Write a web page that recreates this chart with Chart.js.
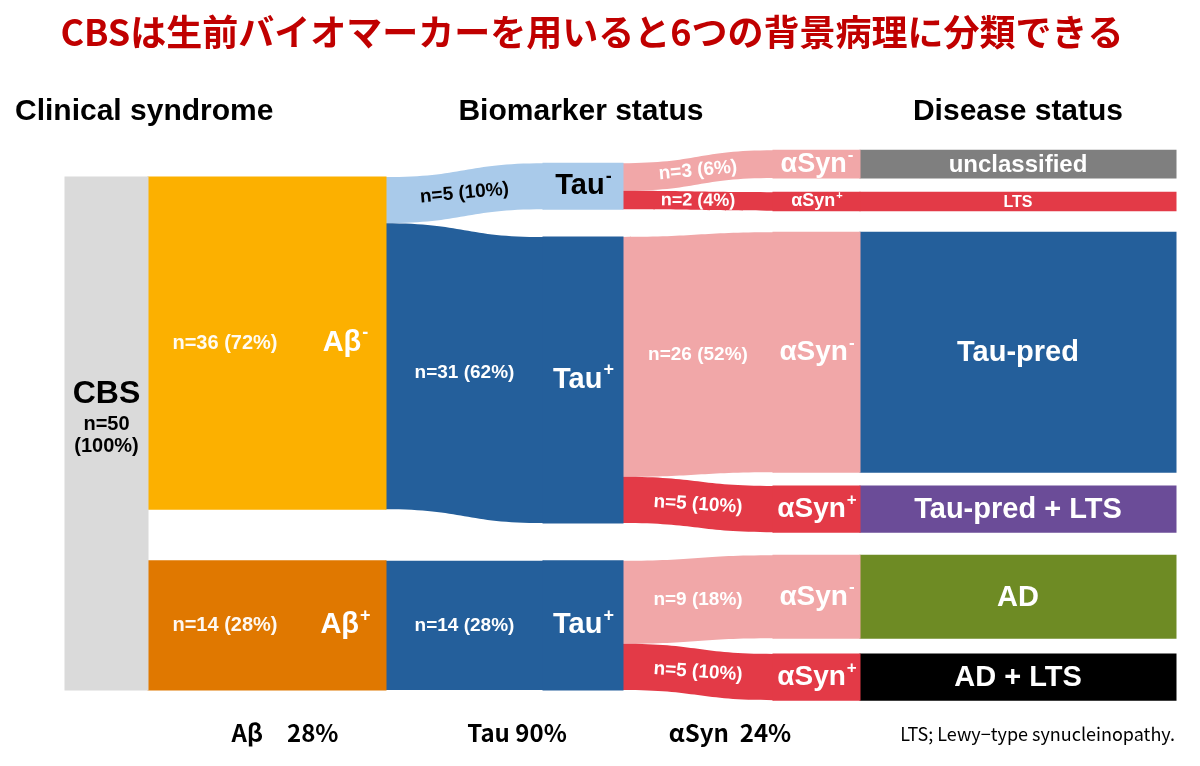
<!DOCTYPE html>
<html><head><meta charset="utf-8">
<script src="https://cdn.jsdelivr.net/npm/chart.js@4.4.1/dist/chart.umd.min.js"></script>
<style>html,body{margin:0;padding:0;background:#fff}#wrap{width:1200px;height:766px;position:relative}</style>
</head><body><div id="wrap"><canvas id="c"></canvas></div>
<script>
// ---------------- data ----------------
const chartTitle = 'CBSは生前バイオマーカーを用いると6つの背景病理に分類できる';
const columnTitles = ['Clinical syndrome', 'Biomarker status', 'Disease status'];
const totalN = 50;
const cbsName = 'CBS';
const cbsCount = [50];
const abetaNames = ['Aβ', 'Aβ'];
const abetaSigns = ['-', '+'];
const abetaCounts = [36, 14];
const tauNames = ['Tau', 'Tau', 'Tau'];
const tauSigns = ['-', '+', '+'];
const tauCounts = [5, 31, 14];
const tauParent = [0, 0, 1];
const synNames = ['αSyn', 'αSyn', 'αSyn', 'αSyn', 'αSyn', 'αSyn'];
const synSigns = ['-', '+', '-', '+', '-', '+'];
const synCounts = [3, 2, 26, 5, 9, 5];
const synParent = [0, 0, 1, 1, 2, 2];
const diseaseNames = ['unclassified', 'LTS', 'Tau-pred', 'Tau-pred + LTS', 'AD', 'AD + LTS'];
const diseaseCounts = [3, 2, 26, 5, 9, 5];
const summaryLabels = ['Aβ　28%', 'Tau 90%', 'αSyn  24%'];
const footnote = 'LTS; Lewy−type synucleinopathy.';

// ---------------- layout (positions / styles) ----------------
const col = {
  cbs: [65, 148], abeta: [148, 386], tauFlow: [386, 543], tauNode: [543, 623],
  synFlow: [623, 773], synNode: [773, 860], disease: [860, 1176]
};
const abetaGap = 5.6;                       // gap between Aβ nodes (in patients)
const tauTop = [-1.5, 6.5, 41.6];           // node tops in patient units
const diseaseTop = [-2.9, 1.65, 6.0, 33.5, 41.0, 51.7];
const colors = {
  cbs: '#DADADA',
  abeta: ['#FCB000', '#E07800'],
  tau: ['#A9CAEA', '#245F9B', '#245F9B'],
  syn: ['#F1A7A8', '#E33A47', '#F1A7A8', '#E33A47', '#F1A7A8', '#E33A47'],
  disease: ['#7F7F7F', '#E33A47', '#245F9B', '#6B4C98', '#6E8B24', '#000000']
};
const tauText = ['#000', '#fff', '#fff'];

const abetaTop = [];
{ let t = 0; abetaCounts.forEach((c) => { abetaTop.push(t); t += c + abetaGap; }); }
const cbsSpan = abetaTop[abetaTop.length - 1] + abetaCounts[abetaCounts.length - 1];
const mid = (r) => (r[0] + r[1]) / 2;
const wid = (r) => r[1] - r[0];

// flows
const tauFlows = [];
{ const used = abetaCounts.map(() => 0);
  tauCounts.forEach((c, i) => { const p = tauParent[i];
    tauFlows.push({ s: abetaTop[p] + used[p], t: tauTop[i], c, color: colors.tau[i], text: tauText[i] });
    used[p] += c; }); }
const synFlows = [];
{ const used = tauCounts.map(() => 0);
  synCounts.forEach((c, i) => { const p = synParent[i];
    synFlows.push({ s: tauTop[p] + used[p], t: diseaseTop[i], c, color: colors.syn[i] });
    used[p] += c; }); }

const nLabel = (c) => `n=${c} (${Math.round(c / totalN * 100)}%)`;
const SANS = '"Liberation Sans", Arial, sans-serif';
const JP = '"Noto Sans CJK JP", sans-serif';

function drawFlow(ctx, ys, x0, x1, f) {
  const a0 = x0 - 0.6, a1 = x1 + 0.6, m = (x0 + x1) / 2;
  const t0 = ys.getPixelForValue(f.s), b0 = ys.getPixelForValue(f.s + f.c);
  const t1 = ys.getPixelForValue(f.t), b1 = ys.getPixelForValue(f.t + f.c);
  ctx.beginPath();
  ctx.moveTo(a0, t0);
  ctx.bezierCurveTo(m, t0, m, t1, a1, t1);
  ctx.lineTo(a1, b1);
  ctx.bezierCurveTo(m, b1, m, b0, a0, b0);
  ctx.closePath();
  ctx.fillStyle = f.color;
  ctx.fill();
}

function txt(ctx, s, x, y, font, color, align) {
  ctx.font = font; ctx.fillStyle = color; ctx.textAlign = align || 'center'; ctx.textBaseline = 'middle';
  ctx.fillText(s, x, y);
}
function supLabel(ctx, main, sup, cx, cy, size, color) {
  ctx.font = `bold ${size}px ${SANS}`;
  const w1 = ctx.measureText(main).width;
  const ss = Math.round(size * 0.62);
  ctx.font = `bold ${ss}px ${SANS}`;
  const w2 = ctx.measureText(sup).width;
  const x0 = cx - (w1 + w2) / 2;
  ctx.fillStyle = color; ctx.textAlign = 'left'; ctx.textBaseline = 'middle';
  ctx.font = `bold ${size}px ${SANS}`;
  ctx.fillText(main, x0, cy);
  ctx.font = `bold ${ss}px ${SANS}`;
  ctx.fillText(sup, x0 + w1 + 1, cy - size * 0.33);
}
function flowLabel(ctx, s, x0, x1, startC, endC, bandH, size, color) {
  const cx = (x0 + x1) / 2;
  const cy = (startC + endC) / 2;
  const ang = bandH < 60 ? Math.atan(1.5 * (endC - startC) / (x1 - x0)) * 0.7 : 0;
  ctx.save();
  ctx.translate(cx, cy);
  ctx.rotate(ang);
  ctx.font = `bold ${size}px ${SANS}`; ctx.fillStyle = color; ctx.textAlign = 'center'; ctx.textBaseline = 'middle';
  ctx.fillText(s, 0, 0);
  ctx.restore();
}

const sankeyPlugin = {
  id: 'sankeyFlows',
  beforeDatasetsDraw(chart) {
    const { ctx, scales: { x: xs, y: ys } } = chart;
    ctx.save();
    tauFlows.forEach((f) => drawFlow(ctx, ys, xs.getPixelForValue(col.tauFlow[0]), xs.getPixelForValue(col.tauFlow[1]), f));
    synFlows.forEach((f) => drawFlow(ctx, ys, xs.getPixelForValue(col.synFlow[0]), xs.getPixelForValue(col.synFlow[1]), f));
    ctx.restore();
  },
  afterDatasetsDraw(chart) {
    const { ctx, scales: { x: xs, y: ys } } = chart;
    const X = (v) => xs.getPixelForValue(v);
    const Y = (v) => ys.getPixelForValue(v);
    ctx.save();
    // title + headers
    txt(ctx, chartTitle, 592, 32, `bold 36px ${JP}`, '#C00000');
    txt(ctx, columnTitles[0], 15, 112, `bold 30px ${SANS}`, '#000', 'left');
    txt(ctx, columnTitles[1], 581, 112, `bold 30px ${SANS}`, '#000');
    txt(ctx, columnTitles[2], 1018, 112, `bold 30px ${SANS}`, '#000');
    // CBS
    const cbsC = (Y(0) + Y(cbsSpan)) / 2;
    txt(ctx, cbsName, X(mid(col.cbs)), cbsC - 39, `bold 32px ${SANS}`, '#000');
    txt(ctx, `n=${cbsCount[0]}`, X(mid(col.cbs)), cbsC - 9, `bold 20px ${SANS}`, '#000');
    txt(ctx, '(100%)', X(mid(col.cbs)), cbsC + 13, `bold 20px ${SANS}`, '#000');
    // Aβ
    abetaCounts.forEach((c, i) => {
      const cy = (Y(abetaTop[i]) + Y(abetaTop[i] + c)) / 2;
      txt(ctx, nLabel(c), X(col.abeta[0] + 77), cy, `bold 20px ${SANS}`, 'rgba(255,255,255,0.95)');
      supLabel(ctx, abetaNames[i], abetaSigns[i], X(col.abeta[1] - 41), cy, 29, '#fff');
    });
    // Tau
    tauFlows.forEach((f, i) => {
      const sC = Y(f.s + f.c / 2), eC = Y(f.t + f.c / 2);
      const h = Y(f.t + f.c) - Y(f.t);
      flowLabel(ctx, nLabel(f.c), X(col.tauFlow[0]), X(col.tauFlow[1]), sC, eC, h, 19, f.text);
      const cy = (Y(tauTop[i]) + Y(tauTop[i] + tauCounts[i])) / 2;
      supLabel(ctx, tauNames[i], tauSigns[i], X(mid(col.tauNode)), cy, 29, f.text);
    });
    // αSyn
    synFlows.forEach((f, i) => {
      const sC = Y(f.s + f.c / 2), eC = Y(f.t + f.c / 2);
      const h = Y(f.t + f.c) - Y(f.t);
      flowLabel(ctx, nLabel(f.c), X(col.synFlow[0]), X(col.synFlow[1]), sC, eC, h, Math.min(19, Math.round(h * 0.95)), '#fff');
      supLabel(ctx, synNames[i], synSigns[i], X(mid(col.synNode)), (Y(f.t) + Y(f.t + f.c)) / 2, Math.min(28, Math.round(h * 0.98)), '#fff');
    });
    // disease
    diseaseNames.forEach((n, i) => {
      const y0 = Y(diseaseTop[i]), y1 = Y(diseaseTop[i] + diseaseCounts[i]);
      const size = Math.min(29, Math.round((y1 - y0) * 0.85));
      txt(ctx, n, X(mid(col.disease)), (y0 + y1) / 2 + 1, `bold ${size}px ${SANS}`, '#fff');
    });
    // bottom
    txt(ctx, summaryLabels[0], 285, 733, `bold 24px ${JP}`, '#000');
    txt(ctx, summaryLabels[1], 517, 733, `bold 24px ${JP}`, '#000');
    txt(ctx, summaryLabels[2], 730, 733, `bold 24px ${JP}`, '#000');
    txt(ctx, footnote, 1175, 734, `18px ${JP}`, '#000', 'right');
    ctx.restore();
  }
};

const barDefaults = { grouped: false, borderWidth: 0, borderSkipped: false, inflateAmount: 0.5 };
const data = {
  datasets: [
    { ...barDefaults, label: 'Clinical syndrome', data: cbsCount.map(() => ({ x: mid(col.cbs), y: [0, cbsSpan] })),
      backgroundColor: colors.cbs, barThickness: wid(col.cbs) },
    { ...barDefaults, label: 'Aβ', data: abetaCounts.map((c, i) => ({ x: mid(col.abeta), y: [abetaTop[i], abetaTop[i] + c] })),
      backgroundColor: colors.abeta, barThickness: wid(col.abeta) },
    { ...barDefaults, label: 'Tau', data: tauCounts.map((c, i) => ({ x: mid(col.tauNode), y: [tauTop[i], tauTop[i] + c] })),
      backgroundColor: colors.tau, barThickness: wid(col.tauNode) },
    { ...barDefaults, label: 'αSyn', data: synCounts.map((c, i) => ({ x: mid(col.synNode), y: [diseaseTop[i], diseaseTop[i] + c] })),
      backgroundColor: colors.syn, barThickness: wid(col.synNode) },
    { ...barDefaults, label: 'Disease status', data: diseaseCounts.map((c, i) => ({ x: mid(col.disease), y: [diseaseTop[i], diseaseTop[i] + c] })),
      backgroundColor: colors.disease, barThickness: wid(col.disease) }
  ]
};

const PX_PER_N = 513 / cbsSpan;
const Y_TOP_PX = 177;
new Chart(document.getElementById('c'), {
  type: 'bar',
  data,
  options: {
    responsive: true, maintainAspectRatio: false, animation: false,
    layout: { padding: 0 },
    plugins: { legend: { display: false }, tooltip: { enabled: false }, title: { display: false } },
    scales: {
      x: { type: 'linear', min: 0, max: 1200, display: false, offset: false },
      y: { type: 'linear', reverse: true, display: false,
           min: -Y_TOP_PX / PX_PER_N, max: (766 - Y_TOP_PX) / PX_PER_N }
    }
  },
  plugins: [sankeyPlugin]
});
</script></body></html>
